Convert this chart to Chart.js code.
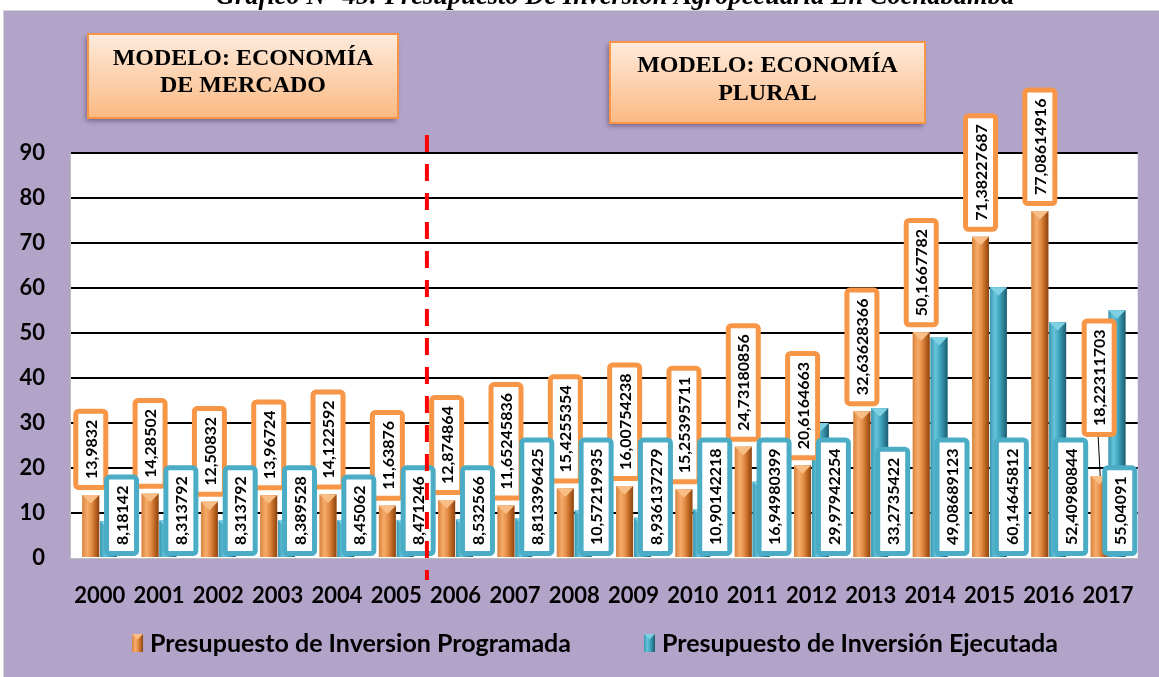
<!DOCTYPE html>
<html lang="es">
<head>
<meta charset="utf-8">
<title>Presupuesto de Inversión Agropecuaria en Cochabamba</title>
<script src="https://cdn.jsdelivr.net/npm/chart.js@4.4.1/dist/chart.umd.min.js"></script>
<style>
  html, body { margin: 0; padding: 0; background: #fff; }
  #wrap { width: 1159px; height: 677px; }
</style>
</head>
<body>
<div id="wrap"><canvas id="inversionChart" width="1159" height="677"></canvas></div>
<script>
// Presupuesto de inversión agropecuaria, Cochabamba (millones de Bs.)
const years = ['2000', '2001', '2002', '2003', '2004', '2005', '2006', '2007', '2008',
               '2009', '2010', '2011', '2012', '2013', '2014', '2015', '2016', '2017'];
const programada = [13.9832, 14.28502, 12.50832, 13.96724, 14.122592, 11.63876, 12.874864,
                    11.65245836, 15.4255354, 16.00754238, 15.25395711, 24.73180856, 20.6164663,
                    32.63628366, 50.1667782, 71.38227687, 77.08614916, 18.22311703];
const ejecutada = [8.18142, 8.313792, 8.313792, 8.389528, 8.45062, 8.471246, 8.532566,
                   8.813396425, 10.57219935, 8.936137279, 10.90142218, 16.94980399, 29.97942254,
                   33.2735422, 49.08689123, 60.14645812, 52.40980844, 55.04091];
const yTicks = [0, 10, 20, 30, 40, 50, 60, 70, 80, 90];
const seriesNames = ['Presupuesto de Inversion Programada', 'Presupuesto de Inversión Ejecutada'];
const chartTitle = 'Gráfico N° 45: Presupuesto De Inversión Agropecuaria En Cochabamba';
const modelNotes = [['MODELO: ECONOMÍA', 'DE MERCADO'], ['MODELO: ECONOMÍA', 'PLURAL']];

const ORANGE = '#F79646';
const BLUE = '#4BACC6';
const PURPLE = '#B2A3C8';
// bevel tones: left edge, highlight, mid, shade, right edge, cap
const orangeTones = ['#D9843F', '#F6AC6A', '#E38D47', '#B8621F', '#8A4515', '#F9BE86'];
const blueTones = ['#3A98B0', '#66C4DA', '#41A6BF', '#2C7F95', '#1E5B6C', '#7ED0E3'];
const labelFont = 'bold 16px Lato';

const fmt = v => String(v).replace('.', ',');

function paintBar(ctx, left, top, width, bottom, tones) {
  const g = ctx.createLinearGradient(left, 0, left + width, 0);
  g.addColorStop(0, tones[0]);
  g.addColorStop(0.3, tones[1]);
  g.addColorStop(0.55, tones[2]);
  g.addColorStop(0.8, tones[3]);
  g.addColorStop(1, tones[4]);
  ctx.fillStyle = g;
  ctx.fillRect(left, top, width, bottom - top);
  // pyramid cap on top of the column
  const cap = Math.min(width / 2, bottom - top);
  ctx.beginPath();
  ctx.moveTo(left, top);
  ctx.lineTo(left + width, top);
  ctx.lineTo(left + width / 2, top + cap);
  ctx.closePath();
  ctx.fillStyle = tones[5];
  ctx.fill();
}

function labelBox(ctx, cx, outerBottom, text, color) {
  ctx.font = labelFont;
  const tw = ctx.measureText(text).width;
  const w = 30, h = tw + 17;
  const top = outerBottom - 2.5 - h;
  ctx.beginPath();
  ctx.roundRect(cx - w / 2, top, w, h, 3);
  ctx.fillStyle = '#fff';
  ctx.fill();
  ctx.lineWidth = 5;
  ctx.strokeStyle = color;
  ctx.stroke();
  ctx.save();
  ctx.translate(cx + 1, top + h / 2);
  ctx.rotate(-Math.PI / 2);
  ctx.textAlign = 'center';
  ctx.textBaseline = 'middle';
  ctx.fillStyle = '#000';
  ctx.fillText(text, 0, 0);
  ctx.restore();
}

const backdrop = {
  id: 'backdrop',
  beforeDraw(chart) {
    const { ctx, chartArea: a } = chart;
    ctx.save();
    ctx.fillStyle = '#fff';
    ctx.fillRect(0, 0, chart.width, chart.height);
    ctx.font = 'italic bold 26.5px "Liberation Serif"';
    ctx.textAlign = 'center';
    ctx.textBaseline = 'alphabetic';
    ctx.fillStyle = '#000';
    ctx.fillText(chartTitle, 615, 4);
    ctx.fillStyle = PURPLE;
    ctx.fillRect(3, 10, chart.width - 3, chart.height - 10);
    ctx.strokeStyle = '#D4D4D4';
    ctx.lineWidth = 1;
    ctx.strokeRect(3.5, 10.5, chart.width, chart.height);
    ctx.fillStyle = '#fff';
    ctx.fillRect(a.left, a.top, a.right - a.left, a.bottom - a.top);
    ctx.restore();
  }
};

const columns = {
  id: 'columns',
  afterDatasetsDraw(chart) {
    const { ctx, chartArea: a } = chart;
    const toneSets = [orangeTones, blueTones];
    ctx.save();
    [0, 1].forEach(d => {
      chart.getDatasetMeta(d).data.forEach(el => {
        paintBar(ctx, el.x - el.width / 2, el.y, el.width, el.base, toneSets[d]);
      });
    });

    // programada labels sit above their column; 2017 is lifted with a leader line
    chart.getDatasetMeta(0).data.forEach((el, i) => {
      const lift = i === 17 ? 34 : 0;
      const bottom = el.y - 5 - lift;
      if (lift) {
        ctx.beginPath();
        ctx.moveTo(el.x - 1, bottom);
        ctx.lineTo(el.x + 1, el.y);
        ctx.lineWidth = 1;
        ctx.strokeStyle = '#000';
        ctx.stroke();
      }
      labelBox(ctx, el.x, bottom, fmt(programada[i]), ORANGE);
    });
    // ejecutada labels anchored at the base, nudged right
    chart.getDatasetMeta(1).data.forEach((el, i) => {
      const cx = Math.min(el.x + 13, a.right - 18);
      labelBox(ctx, cx, a.bottom - 2, fmt(ejecutada[i]), BLUE);
    });

    // divider between the two economic models (2005 | 2006)
    const xs = chart.scales.x;
    const xDiv = (xs.getPixelForValue(5) + xs.getPixelForValue(6)) / 2 + 1;
    ctx.beginPath();
    ctx.setLineDash([17, 12]);
    ctx.moveTo(xDiv, 135);
    ctx.lineTo(xDiv, 580);
    ctx.lineWidth = 4;
    ctx.strokeStyle = '#FF0000';
    ctx.stroke();
    ctx.setLineDash([]);
    ctx.restore();
  }
};

function noteBox(ctx, x, y, w, h, lines, lineYs) {
  ctx.save();
  ctx.shadowColor = 'rgba(40,20,60,0.45)';
  ctx.shadowBlur = 5;
  ctx.shadowOffsetX = -2;
  ctx.shadowOffsetY = 3;
  const g = ctx.createLinearGradient(0, y, 0, y + h);
  g.addColorStop(0, '#FEEBDC');
  g.addColorStop(1, '#FBB983');
  ctx.fillStyle = g;
  ctx.fillRect(x, y, w, h);
  ctx.shadowColor = 'transparent';
  ctx.lineWidth = 2;
  ctx.strokeStyle = ORANGE;
  ctx.strokeRect(x, y, w, h);
  ctx.font = 'bold 24px "Liberation Serif"';
  ctx.textAlign = 'center';
  ctx.textBaseline = 'middle';
  ctx.fillStyle = '#000';
  lines.forEach((t, k) => ctx.fillText(t, x + w / 2, lineYs[k]));
  ctx.restore();
}

const notes = {
  id: 'notes',
  afterDraw(chart) {
    const { ctx } = chart;
    noteBox(ctx, 88, 34, 310, 84, modelNotes[0], [59, 86]);
    noteBox(ctx, 610, 42, 315, 81, modelNotes[1], [66, 94]);

    // legend
    ctx.save();
    ctx.font = 'bold 25px Lato';
    ctx.textBaseline = 'middle';
    ctx.textAlign = 'left';
    ctx.fillStyle = '#000';
    const w0 = ctx.measureText(seriesNames[0]).width;
    const w1 = ctx.measureText(seriesNames[1]).width;
    const gap = 7, spacing = 73, icon = 11;
    const total = icon + gap + w0 + spacing + icon + gap + w1;
    let x = 595 - total / 2;
    const y = 643;
    [[orangeTones, w0, seriesNames[0]], [blueTones, w1, seriesNames[1]]].forEach(([tones, tw, name]) => {
      paintBar(ctx, x, y - 9, icon, y + 9, tones);
      ctx.fillStyle = '#000';
      ctx.fillText(name, x + icon + gap, y + 1);
      x += icon + gap + tw + spacing;
    });
    ctx.restore();
  }
};

const axisFont = { family: 'Lato', weight: 'bold', size: 22 };

new Chart(document.getElementById('inversionChart'), {
  type: 'bar',
  data: {
    labels: years,
    datasets: [
      { label: seriesNames[0], data: programada, backgroundColor: orangeTones[2], borderWidth: 0,
        categoryPercentage: 0.6, barPercentage: 0.95 },
      { label: seriesNames[1], data: ejecutada, backgroundColor: blueTones[2], borderWidth: 0,
        categoryPercentage: 0.6, barPercentage: 0.95 }
    ]
  },
  options: {
    responsive: false,
    animation: false,
    devicePixelRatio: 1,
    layout: { padding: { top: 153, left: 3, right: 14, bottom: 69 } },
    plugins: {
      legend: { display: false },
      tooltip: { enabled: false }
    },
    scales: {
      x: {
        grid: { display: false, drawTicks: false },
        border: { color: '#BFBFBF', width: 1 },
        ticks: { color: '#000', font: axisFont, padding: 25, maxRotation: 0, autoSkip: false },
        afterFit: s => { s.height = 50; }
      },
      y: {
        min: 0, max: 90,
        afterBuildTicks: s => { s.ticks = yTicks.map(v => ({ value: v })); },
        ticks: { color: '#000', font: axisFont, padding: 25 },
        grid: {
          color: c => (c.tick && c.tick.value === 0) ? 'rgba(0,0,0,0)' : '#000',
          lineWidth: 2, drawTicks: false
        },
        border: { color: '#BFBFBF', width: 1 },
        afterFit: s => { s.width = 67; }
      }
    }
  },
  plugins: [backdrop, columns, notes]
});
</script>
</body>
</html>
